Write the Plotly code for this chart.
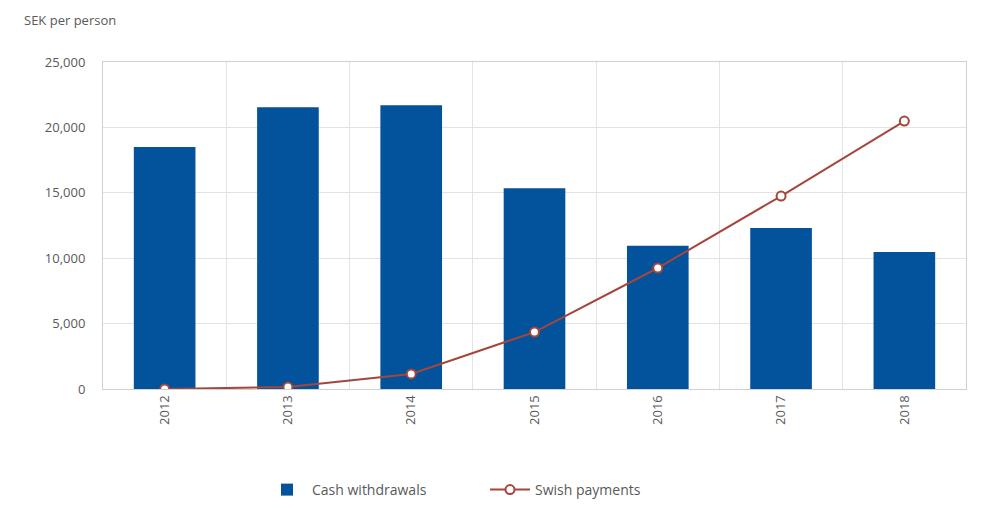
import plotly.graph_objects as go

years = ["2012", "2013", "2014", "2015", "2016", "2017", "2018"]
cash_withdrawals = [18500, 21550, 21700, 15350, 10950, 12300, 10480]
swish_payments = [0, 150, 1150, 4350, 9250, 14750, 20480]
y_ticks = [0, 5000, 10000, 15000, 20000, 25000]
y_tick_labels = ["0", "5,000", "10,000", "15,000", "20,000", "25,000"]

font_color = "#595959"
grid_color = "#e3e3e3"

fig = go.Figure()
fig.add_trace(go.Bar(
    x=years, y=cash_withdrawals, name="Cash withdrawals",
    marker=dict(color="#02529c", line=dict(width=0)), width=0.5,
))
fig.add_trace(go.Scatter(
    x=years, y=swish_payments, name="Swish payments", mode="lines+markers",
    line=dict(color="#a5463b", width=2),
    marker=dict(symbol="circle", size=9, color="white",
                line=dict(color="#a5463b", width=2)),
))

fig.update_layout(
    width=997, height=508,
    margin=dict(l=103, r=31, t=62, b=119, autoexpand=False),
    plot_bgcolor="white", paper_bgcolor="white",
    font=dict(family="Open Sans, sans-serif", size=13, color=font_color),
    showlegend=True,
    legend=dict(orientation="h", xref="container", yref="container",
                x=262/997, xanchor="left", y=1 - 490/508, yanchor="middle",
                font=dict(size=14, color=font_color), itemwidth=40,
                entrywidth=168, entrywidthmode="pixels",
                traceorder="normal"),
    xaxis=dict(
        type="category", tickson="boundaries", showgrid=True, gridcolor=grid_color,
        gridwidth=1, tickangle=-90, ticks="", showline=True, linecolor="#d0d0d0",
        mirror=True, tickfont=dict(size=13, color=font_color),
    ),
    yaxis=dict(
        range=[0, 25000], tickvals=y_ticks, ticktext=y_tick_labels,
        showgrid=True, gridcolor=grid_color, zeroline=False, ticks="",
        showline=True, linecolor="#d0d0d0", mirror=True,
        tickfont=dict(size=13, color=font_color), ticklabelstandoff=14,
    ),
    annotations=[dict(
        text="SEK per person", xref="paper", yref="paper",
        x=-103/863 + 22/863, y=1 + 42/327, xanchor="left", yanchor="middle",
        showarrow=False, font=dict(size=13, color=font_color),
    )],
)

fig.write_html("out.html")
